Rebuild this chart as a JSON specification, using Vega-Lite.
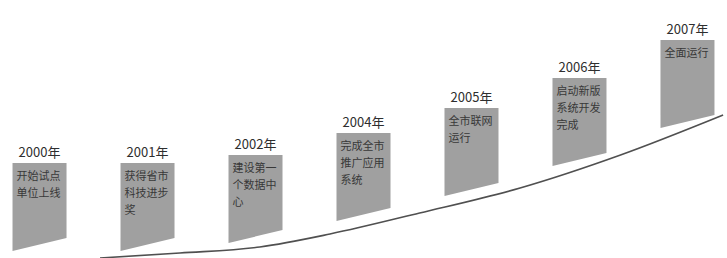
{
  "$schema": "https://vega.github.io/schema/vega-lite/v6.json",
  "width": 727,
  "height": 258,
  "autosize": "none",
  "padding": 0,
  "background": "white",
  "config": {"view": {"stroke": null}},
  "datasets": {
    "stages": [
      {"year": "2000年", "top": 95, "desc": "开始试点\n单位上线"},
      {"year": "2001年", "top": 95, "desc": "获得省市\n科技进步\n奖"},
      {"year": "2002年", "top": 103, "desc": "建设第一\n个数据中\n心"},
      {"year": "2004年", "top": 125, "desc": "完成全市\n推广应用\n系统"},
      {"year": "2005年", "top": 150, "desc": "全市联网\n运行"},
      {"year": "2006年", "top": 180, "desc": "启动新版\n系统开发\n完成"},
      {"year": "2007年", "top": 218, "desc": "全面运行"}
    ],
    "curve": [
      {"t": 0.56, "v": 0},
      {"t": 1.3, "v": 5},
      {"t": 2.04, "v": 11},
      {"t": 2.69, "v": 24},
      {"t": 3.52, "v": 45},
      {"t": 4.45, "v": 70},
      {"t": 5.38, "v": 103},
      {"t": 6.33, "v": 143}
    ]
  },
  "resolve": {"scale": {"x": "independent"}},
  "layer": [
    {
      "mark": {"type": "rule", "color": "#767676", "strokeWidth": 2},
      "encoding": {
        "y": {"datum": 248, "type": "quantitative", "scale": {"domain": [0, 258], "nice": false, "zero": false}, "axis": null}
      }
    },
    {
      "data": {"name": "curve"},
      "mark": {"type": "line", "color": "#505050", "strokeWidth": 1.6, "interpolate": "monotone"},
      "encoding": {
        "x": {"field": "t", "type": "quantitative", "scale": {"domain": [-0.366, 6.366], "nice": false, "zero": false}, "axis": null},
        "y": {"field": "v", "type": "quantitative", "scale": {"domain": [0, 258], "nice": false, "zero": false}, "axis": null}
      }
    },
    {
      "data": {"name": "stages"},
      "encoding": {
        "x": {"field": "year", "type": "ordinal", "sort": null, "scale": {"type": "point", "padding": 0.366}, "axis": null},
        "y": {"field": "top", "type": "quantitative", "scale": {"domain": [0, 258], "nice": false, "zero": false}, "axis": null}
      },
      "layer": [
        {
          "mark": {
            "type": "point",
            "shape": "M-0.54,0L0.54,0L0.54,1.5L-0.54,1.76Z",
            "size": 10000,
            "filled": true,
            "color": "#a0a0a0",
            "opacity": 1,
            "strokeWidth": 0
          }
        },
        {
          "mark": {"type": "text", "baseline": "bottom", "dy": -3, "fontSize": 13, "font": "Noto Sans CJK SC", "color": "#2e2e2e"},
          "encoding": {"text": {"field": "year"}}
        },
        {
          "mark": {"type": "text", "align": "left", "baseline": "top", "dx": -23, "dy": 8, "fontSize": 11, "lineHeight": 17, "lineBreak": "\n", "font": "Noto Sans CJK SC", "color": "#383838"},
          "encoding": {"text": {"field": "desc"}}
        }
      ]
    }
  ]
}
